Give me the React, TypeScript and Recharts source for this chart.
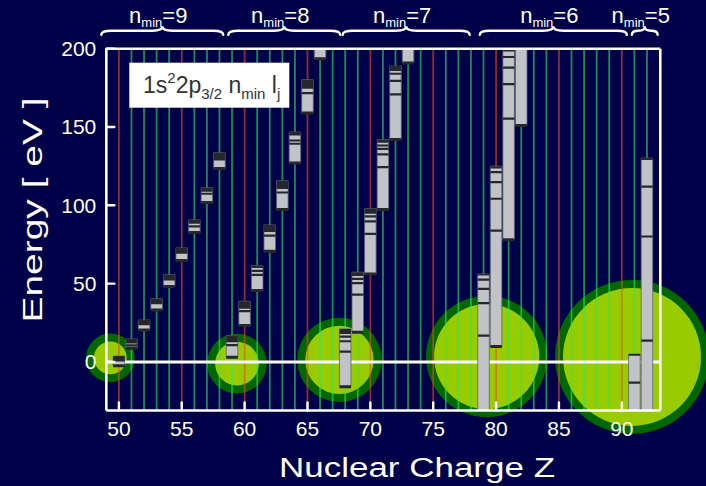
import {
  ComposedChart,
  Scatter,
  XAxis,
  YAxis,
  ZAxis,
  ReferenceLine,
  ReferenceArea,
} from 'recharts';

const W = 706;
const H = 486;
const FONT = '"Liberation Sans", Arial, Helvetica, sans-serif';
const BG = '#000048';
const WHITE = '#ffffff';
const BOX_FILL = '#c1c3c7';
const BOX_EDGE = '#5c6078';
const BOX_DARK = '#26272b';

// axes
const Z_DOMAIN: [number, number] = [49, 93.06];
const E_DOMAIN: [number, number] = [-31, 200];
const Z_GRID = [
  50, 51, 52, 53, 54, 55, 56, 57, 58, 59, 60, 61, 62, 63, 64, 65, 66, 67, 68, 69, 70, 71,
  72, 73, 74, 75, 76, 77, 78, 79, 80, 81, 82, 83, 84, 85, 86, 87, 88, 89, 90, 91, 92,
];
const Z_LABELED = [50, 55, 60, 65, 70, 75, 80, 85, 90];
const E_LABELED = [0, 50, 100, 150, 200];
const E_MINOR = [-25, 25, 75, 125, 175];

// resonance circles: charge, energy and relative strength
const RES_Z = [49.32, 59.39, 67.54, 79.25, 90.81];
const RES_E = [2.6, -1.1, 1.3, 3.4, 3.2];
const RES_W = [10, 15, 30, 62, 100];

// 1s2 2p3/2 nl level bands per Z (eV)
const BAND_Z = [
  50, 51, 52, 53, 54, 55, 56, 57, 58,
  59, 60, 61, 62, 63, 64, 65, 66,
  68, 69, 70, 71, 72, 73,
  79, 80, 81, 82,
  91, 92,
];
const BAND_LO = [
  -2.4, 8.7, 20.4, 33.2, 48.1, 64.7, 82.6, 101.8, 123.5,
  3.0, 23.2, 45.6, 70.7, 97.3, 127, 158.9, 193.6,
  -15.8, 19, 56.2, 97.3, 142, 190.9,
  -40, 9.8, 78, 151,
  -40, -40,
];
const BAND_HI = [
  3.8, 14.7, 26.8, 40.3, 55.6, 72.8, 90.7, 111.2, 133.5,
  16.8, 38.8, 61.5, 87.5, 115.7, 146.8, 180.2, 215,
  21.1, 57.3, 97.8, 141.9, 188.9, 215,
  56.2, 125, 199.4, 215,
  5.1, 130.2,
];
// lower edge of the dense (dark) block at the top of each band
const BAND_DENSE = [
  0.2, 11.7, 23.4, 36.9, 52, 69, 88.2, 108.6, 128.6,
  12.6, 33.9, 59.9, 82.9, 110.5, 144.6, 174.4, null,
  17.9, 54.8, 94.6, 139.9, 185.7, null,
  55.2, 123.5, 198.2, null,
  4, 129,
];
const BAND_LEVELS: number[][] = [
  [], [10.6], [], [], [], [], [86.6], [107.4], [],
  [10.7], [32.4], [58.2, 55.6], [80.7], [108.2], [141.4, 139.3], [171.7], [],
  [16.2, 13.2, 6.6], [53, 50.3, 43], [92.9, 89.7, 81.8], [138.2, 136.1, 132.5, 124.4], [184, 179.4, 170.8], [],
  [52.6, 46.6, 37.5, 16.8], [121.2, 114.8, 104.2, 83.9], [194.7, 187.9, 177.4, 155.3], [],
  [-13.2], [112, 80.1, 13.6],
];

// n_min groups marked above the frame
const SHELL_N = [9, 8, 7, 6, 5];
const SHELL_FROM = [48.6, 58.7, 67.8, 78.7, 90.8];
const SHELL_TO = [58.3, 67.6, 77.9, 90.4, 92.85];
const SHELL_E = 211.5;

const HALF = 0.46;
const THIN = 0.01; // axes take no room, the margins fix the frame

const circles = RES_Z.map((z, i) => ({ z, e: RES_E[i], w: RES_W[i] }));

function Resonance(props: any) {
  const { cx, cy } = props;
  const r = typeof props.size === 'number' ? Math.sqrt(props.size / Math.PI) : props.width / 2;
  return (
    <g>
      <circle cx={cx} cy={cy} r={r} fill="#006600" />
      <circle cx={cx} cy={cy} r={Math.max(r - 8, 0)} fill="#99cc00" />
    </g>
  );
}

function Brace(props: any) {
  const { x1, x2, y1, n } = props;
  const a = Math.min(x1, x2);
  const b = Math.max(x1, x2);
  const m = (a + b) / 2;
  const c = Math.min(10, (b - a) / 4);
  const y = y1;
  const d =
    `M${a},${y + 4} C${a},${y + 1} ${a + c * 0.3},${y} ${a + c},${y} ` +
    `L${m - c},${y} C${m - c * 0.3},${y} ${m},${y - 1} ${m},${y - 4.5} ` +
    `C${m},${y - 1} ${m + c * 0.3},${y} ${m + c},${y} ` +
    `L${b - c},${y} C${b - c * 0.3},${y} ${b},${y + 1} ${b},${y + 4}`;
  return (
    <g>
      <path d={d} fill="none" stroke={WHITE} strokeWidth={2.4} strokeLinecap="round" />
      <text x={m - 4} y={y - 8} textAnchor="middle" fill={WHITE} fontFamily={FONT} fontSize={22}>
        n<tspan fontSize={13} dy={4}>min</tspan>
        <tspan dy={-4}>={n}</tspan>
      </text>
    </g>
  );
}

const tickLine = { stroke: WHITE, strokeWidth: 2.4, strokeLinecap: 'round' as const };
const axisLine = { stroke: WHITE, strokeWidth: 2.6 };
const tickFont = { fill: WHITE, fontSize: 21, fontFamily: FONT };

export default function App() {
  return (
    <div
      style={{
        position: 'absolute', left: 0, top: 0, width: W, height: H,
        background: BG, overflow: 'hidden', fontFamily: FONT,
      }}
    >
      <ComposedChart width={W} height={H} margin={{ top: 48.7, right: 45.7, bottom: 75.5, left: 106.3 }}>
        <ZAxis dataKey="w" type="number" domain={[0, 100]} range={[0, Math.PI * 77 * 77]} />

        <Scatter
          data={circles}
          xAxisId="z"
          yAxisId="e"
          shape={Resonance}
          isAnimationActive={false}
          zIndex={100}
        />

        {Z_GRID.map((z) => (
          <ReferenceLine
            key={`g${z}`}
            x={z}
            xAxisId="z"
            yAxisId="e"
            stroke={z % 5 === 0 ? '#f04a1a' : '#2ee65e'}
            strokeOpacity={0.6}
            strokeWidth={1.8}
            ifOverflow="hidden"
            zIndex={200}
          />
        ))}

        <ReferenceLine y={0} xAxisId="z" yAxisId="e" stroke={WHITE} strokeWidth={3} zIndex={300} ifOverflow="hidden" />

        {BAND_Z.map((z, i) => (
          <ReferenceArea
            key={`b${z}`}
            xAxisId="z"
            yAxisId="e"
            x1={z - HALF}
            x2={z + HALF}
            y1={BAND_LO[i]}
            y2={BAND_HI[i]}
            fill={BOX_FILL}
            fillOpacity={1}
            stroke={BOX_EDGE}
            strokeWidth={0.8}
            ifOverflow="hidden"
            zIndex={400}
          />
        ))}

        {BAND_Z.map((z, i) =>
          BAND_DENSE[i] == null ? null : (
            <ReferenceArea
              key={`d${z}`}
              xAxisId="z"
              yAxisId="e"
              x1={z - HALF}
              x2={z + HALF}
              y1={BAND_DENSE[i] as number}
              y2={BAND_HI[i]}
              fill={BOX_DARK}
              fillOpacity={1}
              ifOverflow="hidden"
              zIndex={410}
            />
          ),
        )}

        {BAND_Z.map((z, i) =>
          [BAND_LO[i], ...BAND_LEVELS[i]].map((lv, j) => (
            <ReferenceLine
              key={`l${z}-${j}`}
              xAxisId="z"
              yAxisId="e"
              segment={[{ x: z - HALF, y: lv }, { x: z + HALF, y: lv }]}
              stroke={BOX_DARK}
              strokeWidth={j === 0 ? 3 : 2.2}
              ifOverflow="hidden"
              zIndex={420}
            />
          )),
        )}

        {SHELL_N.map((n, i) => (
          <ReferenceLine
            key={`s${n}`}
            xAxisId="z"
            yAxisId="e"
            segment={[{ x: SHELL_FROM[i], y: SHELL_E }, { x: SHELL_TO[i], y: SHELL_E }]}
            ifOverflow="visible"
            shape={(p: any) => <Brace {...p} n={n} />}
            zIndex={900}
          />
        ))}

        <XAxis
          xAxisId="z"
          dataKey="z"
          type="number"
          orientation="bottom"
          domain={Z_DOMAIN}
          ticks={Z_LABELED}
          interval={0}
          height={THIN}
          tickSize={-8}
          tickMargin={19}
          tickLine={tickLine}
          axisLine={axisLine}
          tick={tickFont}
          zIndex={1000}
        />
        <XAxis
          xAxisId="zm"
          type="number"
          orientation="bottom"
          domain={Z_DOMAIN}
          allowDataOverflow
          ticks={Z_GRID}
          interval={0}
          height={THIN}
          tickSize={-5}
          tickLine={tickLine}
          axisLine={false}
          tick={false}
          zIndex={1000}
        />
        <XAxis
          xAxisId="t"
          type="number"
          orientation="top"
          domain={Z_DOMAIN}
          allowDataOverflow
          ticks={Z_GRID}
          interval={0}
          height={THIN}
          tickSize={-5}
          tickLine={tickLine}
          axisLine={axisLine}
          tick={false}
          zIndex={1000}
        />
        <YAxis
          yAxisId="e"
          dataKey="e"
          type="number"
          orientation="left"
          domain={E_DOMAIN}
          ticks={E_LABELED}
          interval={0}
          width={THIN}
          tickSize={-8}
          tickMargin={18}
          tickLine={tickLine}
          axisLine={axisLine}
          tick={tickFont}
          zIndex={1000}
        />
        <YAxis
          yAxisId="em"
          type="number"
          orientation="left"
          domain={E_DOMAIN}
          allowDataOverflow
          ticks={E_MINOR}
          interval={0}
          width={THIN}
          tickSize={-5}
          tickLine={tickLine}
          axisLine={false}
          tick={false}
          zIndex={1000}
        />
        <YAxis
          yAxisId="r"
          type="number"
          orientation="right"
          domain={E_DOMAIN}
          allowDataOverflow
          ticks={E_LABELED}
          interval={0}
          width={THIN}
          tickSize={-8}
          tickLine={tickLine}
          axisLine={axisLine}
          tick={false}
          zIndex={1000}
        />
        <YAxis
          yAxisId="rm"
          type="number"
          orientation="right"
          domain={E_DOMAIN}
          allowDataOverflow
          ticks={E_MINOR}
          interval={0}
          width={THIN}
          tickSize={-5}
          tickLine={tickLine}
          axisLine={false}
          tick={false}
          zIndex={1000}
        />
      </ComposedChart>

      <svg width={W} height={H} style={{ position: 'absolute', left: 0, top: 0, pointerEvents: 'none' }}>
        <g transform="translate(42,210) rotate(-90)">
          <text
            x={0}
            y={0}
            textAnchor="middle"
            fill={WHITE}
            fontFamily={FONT}
            fontSize={27}
            textLength={225}
            lengthAdjust="spacingAndGlyphs"
          >
            Energy [ eV ]
          </text>
        </g>
        <text
          x={417}
          y={477}
          textAnchor="middle"
          fill={WHITE}
          fontFamily={FONT}
          fontSize={27}
          textLength={276}
          lengthAdjust="spacingAndGlyphs"
        >
          Nuclear Charge Z
        </text>

        <rect x={129.3} y={62.7} width={160} height={45} fill={WHITE} />
        <text x={143} y={93.3} fill="#333333" fontFamily={FONT} fontSize={23}>
          1s<tspan fontSize={15} dy={-10}>2</tspan>
          <tspan dy={10}>2p</tspan>
          <tspan fontSize={15} dy={6}>3/2</tspan>
          <tspan dy={-6}> n</tspan>
          <tspan fontSize={15} dy={6}>min</tspan>
          <tspan dy={-6}> l</tspan>
          <tspan fontSize={15} dy={6}>j</tspan>
        </text>
      </svg>
    </div>
  );
}
